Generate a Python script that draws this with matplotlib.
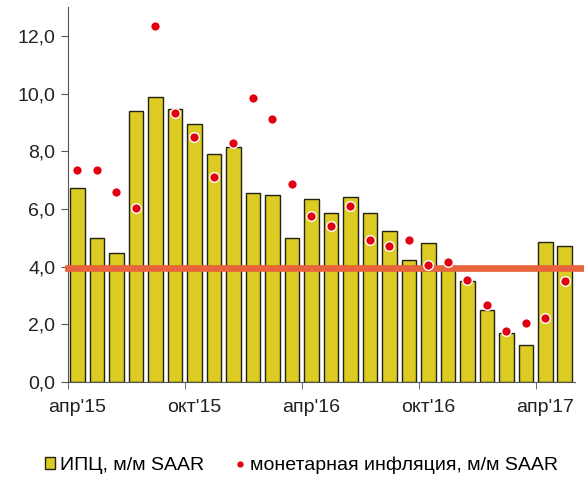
import matplotlib
matplotlib.use("Agg")
import matplotlib.pyplot as plt
import numpy as np
from matplotlib.lines import Line2D
from matplotlib.patches import Patch
from matplotlib.ticker import FuncFormatter, FixedLocator

plt.rcParams['font.family'] = ['Liberation Sans', 'DejaVu Sans']

months = ["апр'15", "май'15", "июн'15", "июл'15", "авг'15", "сен'15",
          "окт'15", "ноя'15", "дек'15", "янв'16", "фев'16", "мар'16",
          "апр'16", "май'16", "июн'16", "июл'16", "авг'16", "сен'16",
          "окт'16", "ноя'16", "дек'16", "янв'17", "фев'17", "мар'17",
          "апр'17", "май'17"]
cpi = [6.72, 4.99, 4.47, 9.38, 9.88, 9.48, 8.94, 7.91, 8.16, 6.54, 6.49, 4.98,
       6.34, 5.85, 6.42, 5.85, 5.23, 4.24, 4.83, 3.98, 3.51, 2.51, 1.70, 1.29,
       4.87, 4.70]
monetary = [7.34, 7.34, 6.59, 6.03, 12.34, 9.32, 8.50, 7.11, 8.30, 9.85, 9.13, 6.87,
            5.76, 5.40, 6.09, 4.93, 4.70, 4.91, 4.06, 4.15, 3.55, 2.68, 1.78, 2.04,
            2.21, 3.51]
target = 3.95
shown_labels = ["апр'15", "окт'15", "апр'16", "окт'16", "апр'17"]
cpi_label = "ИПЦ, м/м SAAR"
mon_label = "монетарная инфляция, м/м SAAR"

bar_color = "#DCCB22"
edge_color = "#222214"
dot_color = "#E00010"
line_color = "#E8643C"

fig = plt.figure(figsize=(5.84, 4.83), dpi=100)
ax = fig.add_axes([0.116, 0.209, 0.868, 0.7765])

x = np.arange(len(months))
ax.bar(x, cpi, width=0.76, color=bar_color, edgecolor=edge_color, linewidth=1.0, zorder=2)
ax.axhline(target, xmin=0, xmax=1.02, color=line_color, linewidth=4.8, zorder=3, clip_on=False)
ax.scatter(x, monetary, s=48, color=dot_color, edgecolor="white", linewidth=1.0, zorder=4, clip_on=False)

ax.set_xlim(-0.5, len(months) - 0.5)
ax.set_ylim(0, 13)
ax.set_yticks(np.arange(0, 13, 2))
ax.yaxis.set_major_formatter(FuncFormatter(lambda v, p: f"{v:.1f}".replace(".", ",")))

idx = [months.index(m) for m in shown_labels]
ax.set_xticks(idx)
ax.set_xticklabels(shown_labels)
ax.tick_params(axis='x', length=0, pad=12, labelsize=14, colors="#222222")
ax.xaxis.set_minor_locator(FixedLocator([i - 0.5 for i in idx]))
ax.tick_params(axis='x', which='minor', length=5, color="#555555", direction='out')
ax.tick_params(axis='y', length=5, color="#555555", labelsize=14, labelcolor="#222222", pad=4)

for s in ["top", "right"]:
    ax.spines[s].set_visible(False)
ax.spines["left"].set_color("#555555")
ax.spines["bottom"].set_color("#555555")

handles = [Patch(facecolor=bar_color, edgecolor=edge_color, linewidth=1.0, label=cpi_label),
           Line2D([], [], marker='o', linestyle='none', markersize=3.5, color=dot_color, label=mon_label)]
fig.legend(handles=handles, loc='center', bbox_to_anchor=(0.516, 0.037), ncol=2, frameon=False,
           fontsize=14, handlelength=0.55, handleheight=0.55, handletextpad=0.25, columnspacing=1.55)

fig.savefig("out.png", dpi=100)
